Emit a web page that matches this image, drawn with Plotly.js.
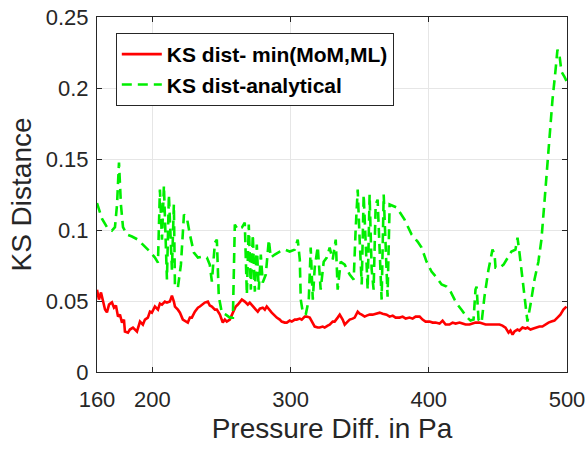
<!DOCTYPE html>
<html>
<head>
<meta charset="utf-8">
<script src="https://cdn.plot.ly/plotly-3.0.1.min.js"></script>
<style>html,body{margin:0;padding:0;background:#fff;}#chart{width:587px;height:450px;}</style>
</head>
<body>
<div id="chart"></div>
<script>
// Series: KS dist - min(MoM,ML)
const redX = [160.0,161.4,162.9,164.3,165.8,167.2,168.7,170.8,172.3,173.7,175.2,176.6,178.1,179.5,180.2,182.4,183.8,186.0,187.5,188.9,191.1,193.2,194.7,196.8,198.3,199.7,201.9,204.1,205.5,207.0,209.1,210.6,212.7,214.2,215.6,216.4,218.5,220.0,222.1,224.3,225.7,227.2,228.6,230.8,233.0,234.4,236.6,238.0,240.2,241.6,243.1,245.3,246.7,248.9,251.0,252.5,253.9,256.1,258.3,260.4,261.9,263.3,264.8,266.9,269.1,270.5,272.7,274.9,276.3,277.8,279.9,281.4,282.8,285.0,286.4,288.6,290.0,292.2,293.6,295.8,297.3,299.4,300.9,303.1,304.5,306.7,308.1,310.3,311.7,313.9,315.3,317.5,319.7,321.1,323.3,324.7,326.9,328.3,330.5,331.9,334.1,335.6,337.7,339.2,341.3,342.8,344.9,346.4,348.6,350.0,351.5,353.6,355.1,357.2,359.4,361.6,364.5,366.6,369.5,371.7,373.9,376.0,378.9,381.1,383.3,386.1,388.3,390.5,393.4,395.5,397.7,400.6,402.8,404.9,407.8,410.0,412.2,415.0,417.2,419.4,422.3,424.4,426.6,429.5,431.7,433.8,436.7,438.9,441.1,444.0,446.1,448.3,451.2,453.3,455.5,457.7,459.1,460.6,462.0,464.2,465.6,467.8,470.0,471.4,473.6,475.7,477.9,480.1,482.2,484.4,486.6,488.7,490.9,493.1,495.2,497.4,499.6];
const redY = [0.058,0.051,0.056,0.051,0.044,0.042,0.0475,0.049,0.0453,0.0468,0.039,0.0404,0.0348,0.0369,0.0285,0.0277,0.0299,0.0313,0.0299,0.0285,0.0355,0.0334,0.0369,0.0383,0.0425,0.0418,0.0461,0.0439,0.0482,0.0475,0.0496,0.0489,0.0496,0.0538,0.0496,0.0461,0.0439,0.0418,0.0369,0.0355,0.0348,0.0383,0.0383,0.0425,0.0453,0.0461,0.0482,0.0489,0.0496,0.0468,0.0461,0.0439,0.0439,0.0404,0.0348,0.0369,0.0355,0.0369,0.0418,0.0461,0.0475,0.0489,0.051,0.0496,0.0475,0.0489,0.0461,0.0439,0.0425,0.0446,0.0453,0.0439,0.0461,0.0432,0.0418,0.0397,0.0383,0.0369,0.0355,0.0348,0.0348,0.0362,0.0355,0.0369,0.0369,0.0376,0.0369,0.039,0.039,0.0383,0.0355,0.032,0.0313,0.0313,0.032,0.0313,0.0327,0.0334,0.0355,0.0355,0.0383,0.0404,0.0369,0.0334,0.0355,0.0369,0.0376,0.0383,0.0425,0.0411,0.0404,0.039,0.0397,0.0404,0.0404,0.0411,0.0418,0.0411,0.0404,0.039,0.0397,0.0383,0.0383,0.039,0.0376,0.0383,0.0376,0.039,0.039,0.0369,0.0355,0.0355,0.0348,0.0348,0.0341,0.0362,0.0334,0.0334,0.0348,0.0341,0.0348,0.0341,0.0334,0.0334,0.0341,0.0348,0.0348,0.0341,0.0334,0.0334,0.0334,0.0334,0.0334,0.0327,0.0313,0.0277,0.0292,0.0263,0.0285,0.0299,0.0292,0.0313,0.0306,0.0313,0.0299,0.0306,0.0313,0.032,0.032,0.0334,0.0348,0.0355,0.0362,0.0383,0.0404,0.0439,0.0461];

// Series: KS dist - analytical
const greenX = [160.0,163.6,167.2,170.8,173.0,174.5,175.9,177.3,178.8,181.7,185.3,189.6,193.2,198.3,201.9,204.1,205.5,207.0,208.4,209.9,210.6,212.0,213.5,214.2,215.6,216.4,218.5,220.7,222.9,225.0,227.2,230.1,233.0,236.6,239.5,241.6,243.1,245.3,246.7,247.4,248.1,250.3,253.2,256.1,258.3,259.7,261.9,264.8,266.9,268.4,269.8,271.3,272.7,274.2,275.6,277.0,278.5,279.9,282.1,284.3,285.7,288.6,292.2,295.8,299.4,303.1,305.2,306.7,307.4,308.8,311.0,313.2,314.6,316.1,317.5,319.7,321.8,324.0,326.2,328.3,330.5,332.7,334.1,336.3,339.2,342.8,345.7,347.1,348.6,350.0,351.5,352.9,354.3,355.8,357.2,358.7,360.1,361.6,363.0,364.5,365.9,367.4,368.8,370.2,371.7,374.6,376.8,382.5,387.6,391.9,394.8,398.4,402.0,405.7,409.3,412.9,415.8,418.7,420.8,423.7,427.3,430.2,432.4,433.8,434.6,436.0,438.2,440.3,443.2,446.1,447.6,448.3,451.2,454.1,456.9,459.8,462.7,464.2,465.6,467.8,470.0,471.4,473.6,476.5,479.3,481.5,484.4,487.3,489.5,491.6,493.1,494.5,496.0,498.1,499.6];
const greenY = [0.119,0.108,0.102,0.0996,0.102,0.118,0.1475,0.118,0.102,0.0968,0.0954,0.0932,0.0897,0.0848,0.0806,0.077,0.1285,0.0932,0.1313,0.0862,0.0651,0.1249,0.0862,0.0721,0.118,0.0601,0.0594,0.0756,0.1108,0.1087,0.0968,0.0841,0.0806,0.0813,0.0806,0.0756,0.0637,0.0911,0.0932,0.0756,0.0531,0.0418,0.0404,0.0383,0.0383,0.1038,0.1003,0.1017,0.1052,0.0545,0.1038,0.058,0.0968,0.0566,0.0897,0.058,0.0827,0.063,0.0686,0.0932,0.0806,0.0827,0.0848,0.0862,0.0848,0.0862,0.0932,0.0792,0.051,0.0425,0.0404,0.051,0.0876,0.051,0.0735,0.0883,0.058,0.0777,0.0806,0.0876,0.0792,0.0932,0.058,0.0777,0.0756,0.0686,0.0651,0.1003,0.1285,0.0932,0.0616,0.1249,0.0862,0.058,0.1249,0.0721,0.058,0.118,0.1214,0.0792,0.051,0.1249,0.0932,0.0531,0.118,0.1165,0.1158,0.1073,0.0968,0.0918,0.0876,0.0777,0.0707,0.0665,0.0616,0.0601,0.0566,0.051,0.0475,0.0439,0.039,0.0362,0.0369,0.058,0.0601,0.0369,0.0348,0.0531,0.0721,0.0862,0.0827,0.0735,0.0735,0.0756,0.0806,0.0848,0.0862,0.0946,0.0841,0.0651,0.0439,0.0355,0.0475,0.0651,0.0777,0.0932,0.1285,0.1672,0.1918,0.2115,0.227,0.2235,0.2115,0.208,0.205];

const xTicks = [160, 200, 300, 400, 500];
const yTicks = [0, 0.05, 0.1, 0.15, 0.2, 0.25];
const yTickText = ['0', '0.05', '0.1', '0.15', '0.2', '0.25'];
const seriesNames = ['KS dist- min(MoM,ML)', 'KS dist-analytical'];

const FONT = 'Liberation Sans, Arial, Helvetica, sans-serif';
const axisCommon = {
  showline: true, linecolor: '#262626', linewidth: 1, mirror: 'ticks',
  ticks: 'inside', ticklen: 5, tickcolor: '#262626',
  showgrid: true, gridcolor: '#e6e6e6', gridwidth: 1, zeroline: false,
  tickfont: {family: FONT, size: 22, color: '#262626'}
};

const traces = [
  {x: redX, y: redY, name: seriesNames[0], type: 'scatter', mode: 'lines',
   line: {color: '#ff0000', width: 2.6}},
  {x: greenX, y: greenY, name: seriesNames[1], type: 'scatter', mode: 'lines',
   line: {color: '#00ee00', width: 2.6, dash: '10px,6px'}}
];

const layout = {
  width: 587, height: 450,
  margin: {l: 97, r: 20, t: 17, b: 78},
  paper_bgcolor: '#fff', plot_bgcolor: '#fff',
  showlegend: true,
  legend: {x: 0.04, y: 0.955, xanchor: 'left', yanchor: 'top',
    bgcolor: '#fff', bordercolor: '#262626', borderwidth: 1,
    font: {family: FONT, size: 21, color: '#000', weight: 'bold'},
    tracegroupgap: 0, itemwidth: 40},
  xaxis: Object.assign({}, axisCommon, {
    range: [160, 500], tickvals: xTicks, ticktext: xTicks.map(String),
    ticklabelstandoff: 8,
    title: {text: 'Pressure Diff. in Pa', font: {family: FONT, size: 28, color: '#262626'}, standoff: 6}
  }),
  yaxis: Object.assign({}, axisCommon, {
    range: [0, 0.25], tickvals: yTicks, ticktext: yTickText,
    ticklabelstandoff: 3,
    title: {text: 'KS Distance', font: {family: FONT, size: 28, color: '#262626'}, standoff: 5}
  })
};

Plotly.newPlot('chart', traces, layout, {displayModeBar: false, staticPlot: true});
</script>
</body>
</html>
